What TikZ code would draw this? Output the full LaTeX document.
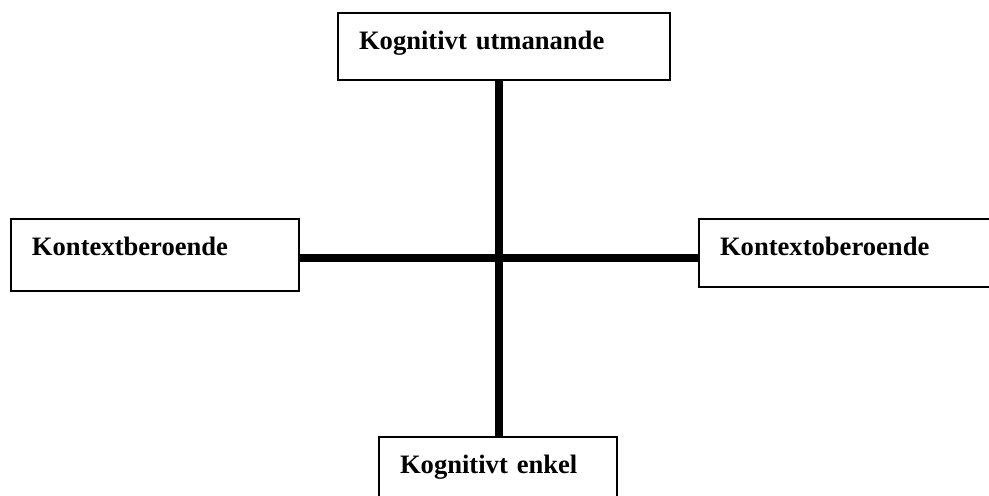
\documentclass[tikz,border=0pt]{standalone}
\usepackage{fontspec}
\setmainfont{Liberation Serif}
\usepackage{tikz}
\usetikzlibrary{calc}

\tikzset{
  AxisBox/.style={draw,line width=0.6pt,font=\fontsize{13.3}{16}\selectfont\bfseries,
    inner xsep=10.5pt,inner ysep=6.5pt,text height=11.5pt,align=left},
  AxisLine/.style={line width=4pt}
}

\begin{document}
\begin{tikzpicture}[x=0.5pt,y=0.5pt]
            \clip (0,0) rectangle (989,495);
            \fill[white] (0,0) rectangle (989,495);

            \node[AxisBox,text width=145pt,text depth=9pt] (utmanande) at (504,448.5) {Kognitivt utmanande};
            \node[AxisBox,text width=123pt,text depth=11.5pt] (beroende) at (155,240) {Kontextberoende};
            \node[AxisBox,text width=129pt,text depth=9.5pt] (oberoende) at (849,242) {Kontextoberoende};
            \node[AxisBox,text width=98pt,text depth=9.5pt] (enkel) at (498,24) {Kognitivt enkel};

            \coordinate (mitt) at (499,237);

            \draw[AxisLine] (utmanande.south -| mitt) -- (enkel.north -| mitt);
            \draw[AxisLine] (beroende.east |- mitt) -- (oberoende.west |- mitt);
\end{tikzpicture}
\end{document}
